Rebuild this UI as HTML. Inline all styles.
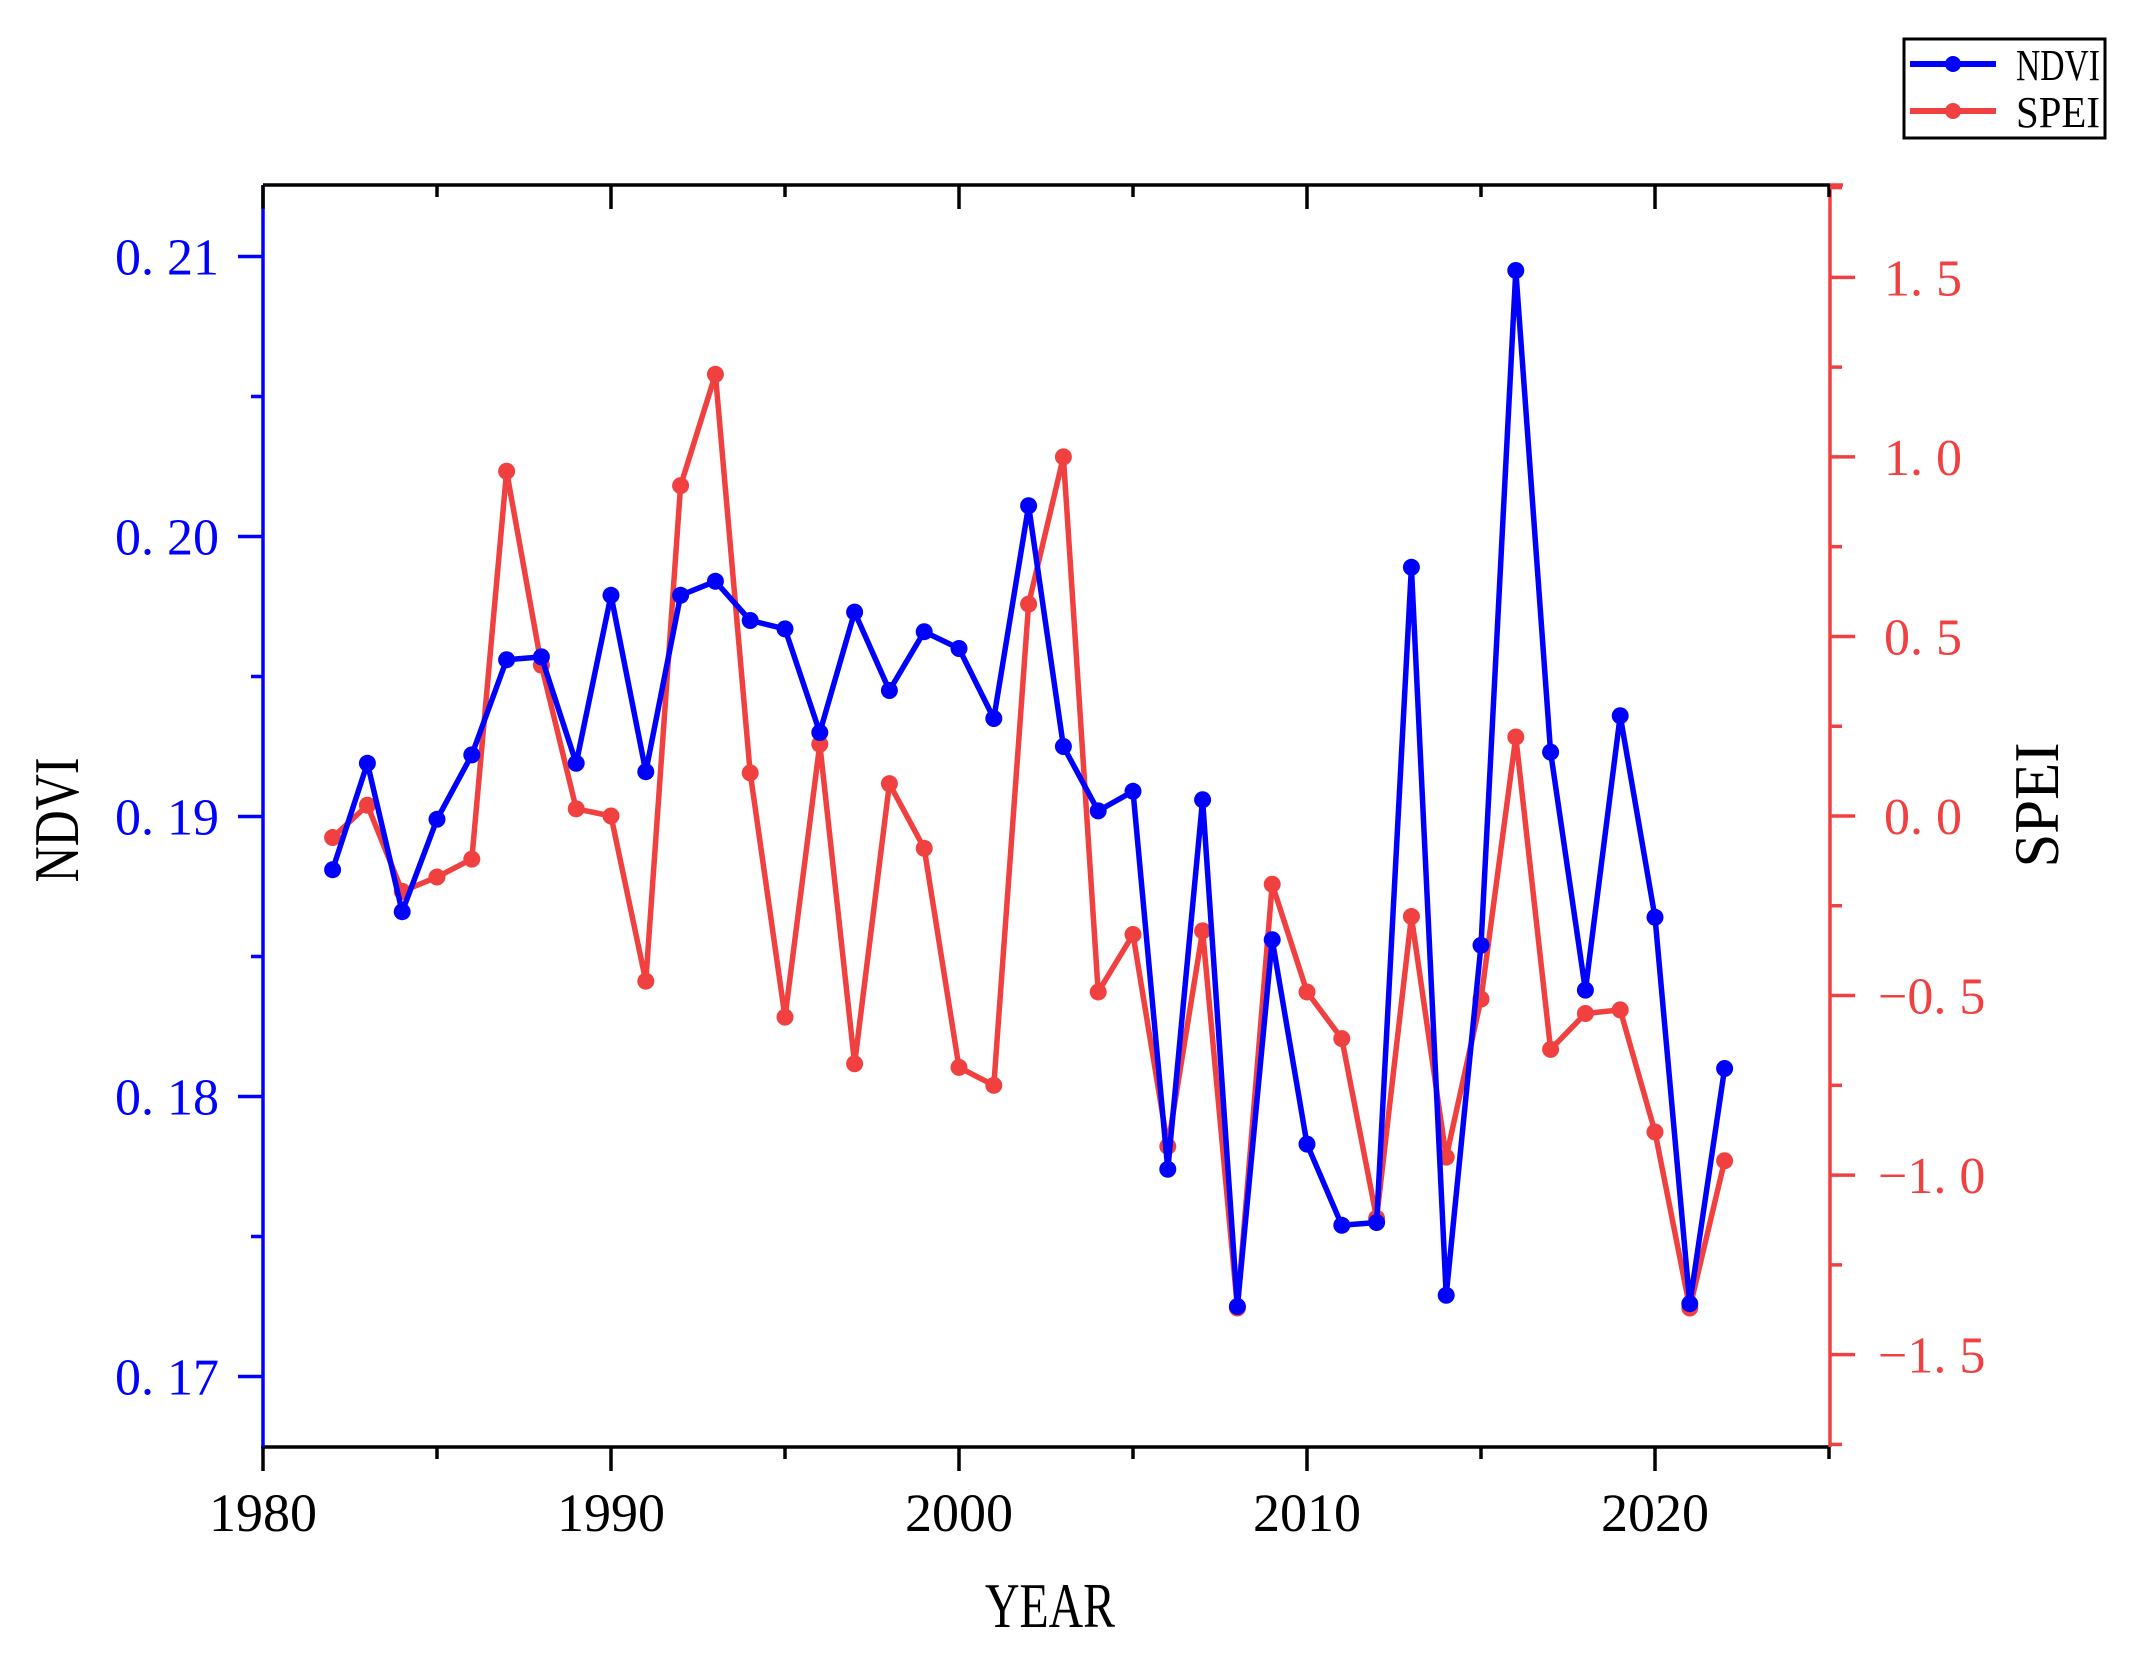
<!DOCTYPE html>
<html><head><meta charset="utf-8"><style>
html,body{margin:0;padding:0;background:#fff;}
svg{display:block;font-family:"Liberation Serif","Noto Serif CJK SC",serif;}
</style></head><body>
<svg id="chart" width="2130" height="1654" viewBox="0 0 2130 1654" xmlns="http://www.w3.org/2000/svg">
<g id="axes"></g>
<g id="series"></g>
<g>
<rect x="1904" y="39" width="201" height="99" fill="#fff" stroke="#000" stroke-width="3"/>
<g>
<line x1="1910" y1="64" x2="1996" y2="64" stroke="#0000ff" stroke-width="6"/>
<circle cx="1953" cy="64" r="8" fill="#0000ff"/>
<text x="2016" y="80" font-size="44" fill="#000" textLength="84" lengthAdjust="spacingAndGlyphs">NDVI</text></g>
<g>
<line x1="1910" y1="111" x2="1996" y2="111" stroke="#f04040" stroke-width="6"/>
<circle cx="1953" cy="111" r="8" fill="#f04040"/>
<text x="2016" y="127" font-size="44" fill="#000" textLength="84" lengthAdjust="spacingAndGlyphs">SPEI</text></g>
</g>
</svg>
<script>
const years = [1982,1983,1984,1985,1986,1987,1988,1989,1990,1991,1992,1993,1994,1995,1996,1997,1998,1999,2000,2001,2002,2003,2004,2005,2006,2007,2008,2009,2010,2011,2012,2013,2014,2015,2016,2017,2018,2019,2020,2021,2022];
const ndvi = [0.1881,0.1919,0.1866,0.1899,0.1922,0.1956,0.1957,0.1919,0.1979,0.1916,0.1979,0.1984,0.1970,0.1967,0.1930,0.1973,0.1945,0.1966,0.1960,0.1935,0.2011,0.1925,0.1902,0.1909,0.1774,0.1906,0.1725,0.1856,0.1783,0.1754,0.1755,0.1989,0.1729,0.1854,0.2095,0.1923,0.1838,0.1936,0.1864,0.1726,0.1810];
const spei = [-0.06,0.03,-0.21,-0.17,-0.12,0.96,0.42,0.02,0.0,-0.46,0.92,1.23,0.12,-0.56,0.20,-0.69,0.09,-0.09,-0.70,-0.75,0.59,1.00,-0.49,-0.33,-0.92,-0.32,-1.37,-0.19,-0.49,-0.62,-1.12,-0.28,-0.95,-0.51,0.22,-0.65,-0.55,-0.54,-0.88,-1.37,-0.96];
const xTicks = [1980,1990,2000,2010,2020];
const ndviTicks = [0.17,0.18,0.19,0.20,0.21];
const ndviTickLabels = ["0. 17","0. 18","0. 19","0. 20","0. 21"];
const speiTicks = [-1.5,-1.0,-0.5,0.0,0.5,1.0,1.5];
const speiTickLabels = ["\u22121. 5","\u22121. 0","\u22120. 5","0. 0","0. 5","1. 0","1. 5"];

const L=263,R=1830,T=185,B=1447;
const X=v=>L+(v-1980)*(1392/40);
const YN=v=>1376.5-(v-0.17)*(1120/0.04);
const YS=v=>816-v*359.1;
const NS="http://www.w3.org/2000/svg";
function mk(tag,attrs,parent,txt){const e=document.createElementNS(NS,tag);for(const k in attrs)e.setAttribute(k,attrs[k]);if(txt!==undefined)e.textContent=txt;parent.appendChild(e);return e;}
const ax=document.getElementById('axes');
let e;
e=mk('line',{x1:L,y1:T,x2:R,y2:T,stroke:'#000','stroke-width':3.5},ax);


e=mk('line',{x1:L-2,y1:B,x2:R,y2:B,stroke:'#000','stroke-width':3.5},ax);


e=mk('line',{x1:L,y1:T,x2:L,y2:B,stroke:'#0000ff','stroke-width':3.5},ax);


e=mk('line',{x1:R,y1:T,x2:R,y2:B,stroke:'#f04040','stroke-width':3.5},ax);


mk('line',{x1:R,y1:T,x2:R+13,y2:T,stroke:'#f04040','stroke-width':3.5},ax);
for(let y=1980;y<=2025;y+=5){const maj=y%10===0;const x=X(y);
 mk('line',{x1:x,y1:B,x2:x,y2:B+(maj?24:12),stroke:'#000','stroke-width':3.5},ax);
 mk('line',{x1:x,y1:T,x2:x,y2:T+(maj?24:12),stroke:'#000','stroke-width':3.5},ax);}
xTicks.forEach(v=>{e=mk('text',{x:X(v),y:B+84,'font-size':54,'text-anchor':'middle',fill:'#000'},ax,String(v));
 
 });
for(let i=0;i<=8;i++){const v=0.17+i*0.005;const y=YN(v);if(y<T)continue;
 mk('line',{x1:L,y1:y,x2:L-(i%2===0?25:12),y2:y,stroke:'#0000ff','stroke-width':3.5},ax);}
ndviTicks.forEach((v,i)=>{e=mk('text',{x:219,y:YN(v)+18,'font-size':52,'text-anchor':'end',fill:'#0000ff'},ax,ndviTickLabels[i]);
 
 });
for(let i=-7;i<=7;i++){const v=i*0.25;const y=YS(v);if(y<T||y>B)continue;
 mk('line',{x1:R,y1:y,x2:R+(i%2===0?25:12),y2:y,stroke:'#f04040','stroke-width':3.5},ax);}
speiTicks.forEach((v,i)=>{e=mk('text',{x:v<0?1878:1884,y:YS(v)+18,'font-size':52,fill:'#f04040'},ax,speiTickLabels[i]);
 
 });
e=mk('text',{x:1050,y:1627,'font-size':64,'text-anchor':'middle',fill:'#000',textLength:130,lengthAdjust:'spacingAndGlyphs'},ax,'YEAR');


e=mk('text',{x:0,y:0,'font-size':64,'text-anchor':'middle',fill:'#000',transform:'translate(78,820) rotate(-90)',textLength:125,lengthAdjust:'spacingAndGlyphs'},ax,'NDVI');


e=mk('text',{x:0,y:0,'font-size':64,'text-anchor':'middle',fill:'#000',transform:'translate(2058,805) rotate(-90)',textLength:125,lengthAdjust:'spacingAndGlyphs'},ax,'SPEI');


const sg=document.getElementById('series');
function series(vals,Y,color,name){
 const g=mk('g',{},sg);
 
 
 const p=mk('polyline',{points:vals.map((v,i)=>X(years[i])+','+Y(v)).join(' '),fill:'none',stroke:color,'stroke-width':5.5,'stroke-linejoin':'round'},g);
 
 
 vals.forEach((v,i)=>{const c=mk('circle',{cx:X(years[i]),cy:Y(v),r:8.5,fill:color},g);
  
  });
}
series(spei,YS,'#f04040','spei');
series(ndvi,YN,'#0000ff','ndvi');
</script>
</body></html>
